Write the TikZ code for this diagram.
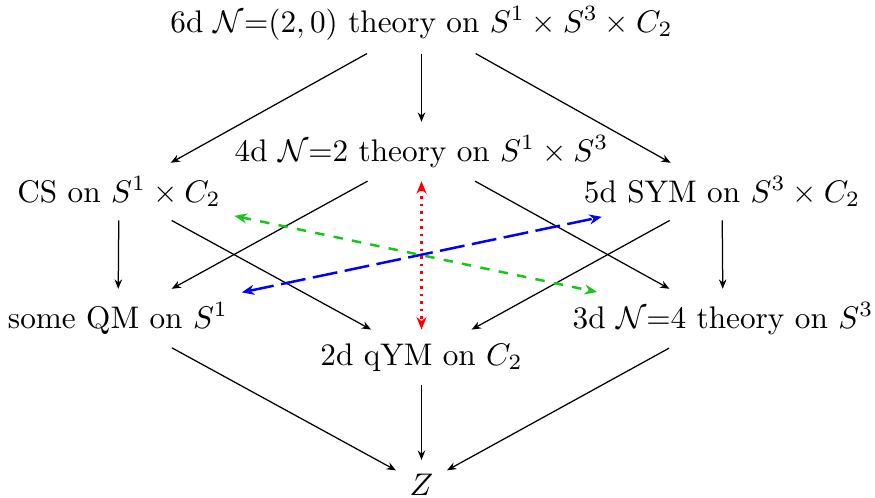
\documentclass[tikz,border=0pt]{standalone}
\usetikzlibrary{arrows.meta}
\begin{document}
\begin{tikzpicture}[x=0.32pt,y=-0.32pt,
  lbl/.style={inner sep=4.2pt,anchor=base,font=\fontsize{10}{12}\selectfont},
  blk/.style={-{Stealth[length=3pt,width=2.4pt]},line width=0.4pt},
  col/.style={{Stealth[length=4pt,width=3.2pt]}-{Stealth[length=4pt,width=3.2pt]},line width=0.8pt}]
\useasboundingbox (0,0) rectangle (875,497);
\node[lbl] (six) at (421.5,32) {6d $\mathcal{N}{=}(2,0)$ theory on $S^1\times S^3\times C_2$};
\node[lbl] (four) at (421.5,161) {4d $\mathcal{N}{=}2$ theory on $S^1\times S^3$};
\node[lbl] (cs) at (119,202) {CS on $S^1\times C_2$};
\node[lbl] (five) at (722,202) {5d SYM on $S^3\times C_2$};
\node[lbl] (qm) at (118,328) {some QM on $S^1$};
\node[lbl] (three) at (723,328) {3d $\mathcal{N}{=}4$ theory on $S^3$};
\node[lbl] (two) at (421.5,365) {2d qYM on $C_2$};
\node[lbl] (z) at (421.5,495) {$Z$};
\draw[blk] (six) -- (cs);
\draw[blk] (six) -- (four);
\draw[blk] (six) -- (five);
\draw[blk] (cs) -- (qm);
\draw[blk] (cs) -- (two);
\draw[blk] (four) -- (qm);
\draw[blk] (four) -- (three);
\draw[blk] (five) -- (two);
\draw[blk] (five) -- (three);
\draw[blk] (qm) -- (z);
\draw[blk] (two) -- (z);
\draw[blk] (three) -- (z);
\draw[col,blue,dash pattern=on 8pt off 2.4pt,shorten >=-5.6pt] (qm) -- (five);
\draw[col,color={rgb,255:red,20;green,200;blue,20},dash pattern=on 3pt off 3pt,shorten >=-5pt] (cs) -- (three);
\draw[col,red,dash pattern=on 0.8pt off 1.6pt] (four) -- (two);
\end{tikzpicture}
\end{document}
